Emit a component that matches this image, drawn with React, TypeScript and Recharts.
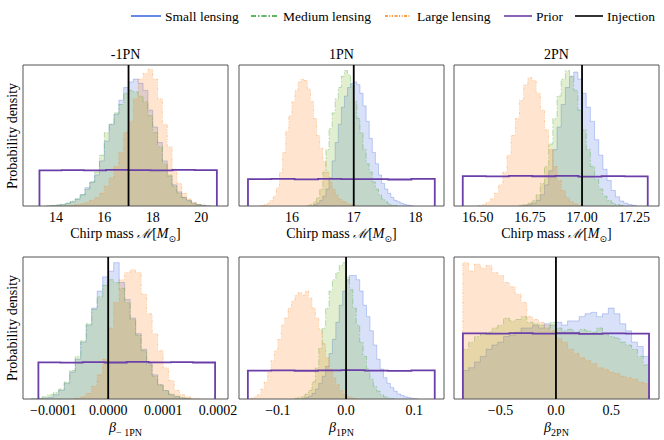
import React from 'react';
import { ComposedChart, Area, Line, XAxis, YAxis, ReferenceLine, ReferenceArea } from 'recharts';

const SERIF = '"Liberation Serif", "Times New Roman", "DejaVu Serif", serif';

// ---------- categories / labels ----------
const panelTitles = ['-1PN', '1PN', '2PN'];
const betaSubs = ['\u2212 1PN', '1PN', '2PN'];
const legendLabels = ['Small lensing', 'Medium lensing', 'Large lensing', 'Prior', 'Injection'];

// ---------- tick values ----------
const ticksMc1 = [14, 16, 18, 20];
const ticksMc2 = [16, 17, 18];
const ticksMc3 = [16.5, 16.75, 17.0, 17.25];
const ticksB1 = [-0.0001, 0, 0.0001, 0.0002];
const ticksB2 = [-0.1, 0, 0.1];
const ticksB3 = [-0.5, 0, 0.5];

// ---------- injections ----------
const injMc = 17.0;
const injBeta = 0.0;

// ---------- Chirp mass, -1PN (bin edges start, bin width, heights % of panel) ----------
const mc1Bin = 0.2;
const mc1SmallStart = 13.6;
const mc1Small = [0, 0.3, 0.5, 1, 2, 3, 5, 8, 13, 17, 22, 32, 46, 58, 65, 75, 84, 88, 90, 87, 82, 68, 56, 45, 32, 21, 15, 10, 6, 4, 2, 1, 0.5, 0];
const mc1MediumStart = 13.6;
const mc1Medium = [0, 0.5, 0.8, 1.2, 2, 3.5, 5, 8, 12, 17, 24, 36, 52, 58, 66, 72, 80, 82, 81, 78, 74, 64, 52, 42, 30, 22, 14, 9, 6, 3.5, 2, 1, 0.5, 0];
const mc1LargeStart = 13.6;
const mc1Large = [0, 0, 0, 0, 0.3, 0.6, 1, 1.5, 2.5, 4, 6, 9, 14, 20, 28, 38, 52, 60, 76, 90, 94, 97, 90, 76, 58, 42, 26, 16, 9, 5, 2.5, 1, 0.5, 0];
const mc1PriorRange = [13.32, 20.65];
const mc1Prior = [25.3, 25.5, 25.2, 25.6, 25.4, 25.3, 25.6, 25.4];

// ---------- Chirp mass, 1PN ----------
const mc2Bin = 0.05;
const mc2SmallStart = 16.35;
const mc2Small = [1, 2, 4, 7, 12, 20, 32, 45, 58, 70, 78, 84, 87, 88, 86, 80, 71, 60, 48, 38, 30, 22, 16, 12, 9, 6, 4, 3, 2, 1.2, 0.7, 0.3];
const mc2MediumStart = 16.25;
const mc2Medium = [0.3, 1, 3, 6, 12, 24, 40, 55, 66, 76, 84, 92, 96, 93, 86, 74, 62, 52, 40, 30, 24, 17, 12, 8, 5, 3, 1.5, 0.7, 0.3];
const mc2LargeStart = 15.5;
const mc2Large = [0.3, 1, 2, 4, 7, 13, 24, 38, 53, 64, 74, 82, 88, 90, 89, 83, 74, 62, 50, 41, 32, 24, 17, 12, 8, 5, 3.5, 2.5, 1.5, 0.8, 0.3];
const mc2PriorRange = [15.29, 18.31];
const mc2Prior = [19.0, 19.2, 18.9, 19.3, 19.0, 19.1, 18.8, 19.2];

// ---------- Chirp mass, 2PN ----------
const mc3Bin = 0.02;
const mc3SmallStart = 16.72;
const mc3Small = [0.5, 1, 2, 4, 8, 15, 25, 40, 56, 72, 84, 92, 95, 90, 80, 70, 60, 47, 36, 26, 18, 11, 6.5, 3.5, 2, 1, 0.5];
const mc3MediumStart = 16.7;
const mc3Medium = [0.5, 1, 2, 4, 8, 16, 28, 44, 62, 78, 90, 96, 92, 82, 68, 54, 40, 28, 19, 12, 7, 4, 2, 1, 0.4];
const mc3LargeStart = 16.5;
const mc3Large = [0.3, 1, 2.5, 5, 9, 15, 24, 36, 50, 62, 75, 86, 91, 89, 80, 68, 54, 40, 28, 18, 11, 6, 3, 1.5, 0.5];
const mc3PriorRange = [16.428, 17.315];
const mc3Prior = [21.2, 21.0, 21.4, 21.1, 21.3, 20.9, 21.2, 21.0];

// ---------- beta, -1PN ----------
const b1Bin = 0.00001;
const b1SmallStart = -0.00013;
const b1Small = [0.3, 0.6, 1.2, 3, 6, 11, 19, 28, 40, 52, 64, 76, 86, 90, 96, 82, 70, 57, 46, 35, 25, 17, 10, 6, 3, 1.5, 0.7, 0.3];
const b1MediumStart = -0.00014;
const b1Medium = [0.3, 0.7, 1.5, 3, 4.5, 7, 12, 20, 30, 41, 53, 63, 72, 80, 84, 82, 78, 68, 56, 45, 34, 24, 16, 10, 6, 3.5, 2, 1, 0.4];
const b1LargeStart = -0.00006;
const b1Large = [0.5, 1.5, 4, 9, 17, 28, 50, 68, 84, 89, 91, 89, 74, 60, 46, 34, 22, 13, 6, 3, 1.5, 0.6, 0.2];
const b1PriorRange = [-0.000127, 0.0001945];
const b1Prior = [25.8, 25.6, 26.0, 25.7, 26.1, 25.8, 25.9, 25.7];

// ---------- beta, 1PN ----------
const b2Bin = 0.005;
const b2SmallStart = -0.065;
const b2Small = [0.5, 1, 2, 4, 7, 11, 16, 23, 32, 42, 54, 66, 76, 84, 87, 87, 84, 76, 66, 58, 48, 38, 28, 21, 15, 11, 8, 5.5, 3.5, 2.5, 1.5, 1, 0.5, 0.2];
const b2MediumStart = -0.075;
const b2Medium = [0.5, 1, 2, 3.5, 6, 12, 22, 36, 50, 64, 76, 84, 89, 94, 96, 86, 77, 64, 52, 40, 30, 21, 14, 9, 5.5, 3, 1.5, 0.8, 0.3];
const b2LargeStart = -0.14;
const b2Large = [0.5, 1.5, 3, 7, 12, 19, 27, 34, 42, 52, 57, 64, 69, 73, 75, 73, 76, 71, 64, 57, 49, 39, 29, 21, 15, 10, 6, 3.5, 2, 1, 0.4];
const b2PriorRange = [-0.144, 0.13];
const b2Prior = [20.0, 20.2, 19.9, 20.1, 20.3, 20.0, 19.8, 20.1];

// ---------- beta, 2PN ----------
const b3Bin = 0.0525;
const b3SmallStart = -0.84;
const b3Small = [20, 22, 26, 30, 35, 38, 40, 44, 45, 47, 50, 50, 52, 50, 53, 52, 54, 52, 55, 55, 58, 60, 61, 58, 60, 64, 60, 53, 48, 40, 37, 30];
const b3MediumStart = -0.84;
const b3Medium = [35, 40, 44, 46, 47, 50, 52, 57, 55, 56, 58, 54, 53, 52, 50, 54, 50, 48, 49, 47, 49, 48, 47, 50, 46, 44, 43, 40, 38, 35, 30, 24];
const b3LargeStart = -0.84;
const b3Large = [96, 90, 95, 92, 94, 89, 87, 82, 79, 74, 68, 58, 56, 54, 52, 48, 43, 40, 35, 32, 29, 27, 25, 22, 21, 19, 18, 16, 15, 14, 12, 11];
const b3PriorRange = [-0.84, 0.84];
const b3Prior = [46.2, 46.0, 46.4, 46.1, 46.3, 45.9, 46.2, 46.0];

// ---------- style ----------
const C_SMALL = '#4169E1';
const C_MEDIUM = '#2ca02c';
const C_MEDIUM_FILL = '#6aaa10';
const C_LARGE = '#ff7f0e';
const C_PRIOR = '#6b3fa8';
const C_INJ = '#000000';
const DASH_MEDIUM = '6 2 1.5 2';
const DASH_LARGE = '3 1.5 1 1.5 1 1.5';

type Pt = { x: number; y: number };

function histPoints(start: number, bin: number, h: number[]): Pt[] {
  const pts: Pt[] = [{ x: start, y: 0 }];
  h.forEach((v, i) => pts.push({ x: start + i * bin, y: v }));
  pts.push({ x: start + h.length * bin, y: 0 });
  return pts;
}

function priorPoints(range: number[], h: number[]): Pt[] {
  const bin = (range[1] - range[0]) / h.length;
  return histPoints(range[0], bin, h);
}

const fmtInt = (v: number) => String(v);
const fmt2 = (v: number) => v.toFixed(2);
const fmt1 = (v: number) => v.toFixed(1).replace('-', '\u2212');
const fmt4 = (v: number) => v.toFixed(4).replace('-', '\u2212');

type PanelCfg = {
  domain: [number, number];
  ticks: number[];
  fmt: (v: number) => string;
  inj: number;
  prior: Pt[];
  small: Pt[];
  medium: Pt[];
  large: Pt[];
};

const topPanels: PanelCfg[] = [
  {
    domain: [12.64, 21.11], ticks: ticksMc1, fmt: fmtInt, inj: injMc,
    prior: priorPoints(mc1PriorRange, mc1Prior),
    small: histPoints(mc1SmallStart, mc1Bin, mc1Small),
    medium: histPoints(mc1MediumStart, mc1Bin, mc1Medium),
    large: histPoints(mc1LargeStart, mc1Bin, mc1Large),
  },
  {
    domain: [15.145, 18.459], ticks: ticksMc2, fmt: fmtInt, inj: injMc,
    prior: priorPoints(mc2PriorRange, mc2Prior),
    small: histPoints(mc2SmallStart, mc2Bin, mc2Small),
    medium: histPoints(mc2MediumStart, mc2Bin, mc2Medium),
    large: histPoints(mc2LargeStart, mc2Bin, mc2Large),
  },
  {
    domain: [16.386, 17.369], ticks: ticksMc3, fmt: fmt2, inj: injMc,
    prior: priorPoints(mc3PriorRange, mc3Prior),
    small: histPoints(mc3SmallStart, mc3Bin, mc3Small),
    medium: histPoints(mc3MediumStart, mc3Bin, mc3Medium),
    large: histPoints(mc3LargeStart, mc3Bin, mc3Large),
  },
];

const bottomPanels: PanelCfg[] = [
  {
    domain: [-0.000155, 0.000218], ticks: ticksB1, fmt: fmt4, inj: injBeta,
    prior: priorPoints(b1PriorRange, b1Prior),
    small: histPoints(b1SmallStart, b1Bin, b1Small),
    medium: histPoints(b1MediumStart, b1Bin, b1Medium),
    large: histPoints(b1LargeStart, b1Bin, b1Large),
  },
  {
    domain: [-0.157, 0.1436], ticks: ticksB2, fmt: fmt1, inj: injBeta,
    prior: priorPoints(b2PriorRange, b2Prior),
    small: histPoints(b2SmallStart, b2Bin, b2Small),
    medium: histPoints(b2MediumStart, b2Bin, b2Medium),
    large: histPoints(b2LargeStart, b2Bin, b2Large),
  },
  {
    domain: [-0.92, 0.93], ticks: ticksB3, fmt: fmt1, inj: injBeta,
    prior: priorPoints(b3PriorRange, b3Prior),
    small: histPoints(b3SmallStart, b3Bin, b3Small),
    medium: histPoints(b3MediumStart, b3Bin, b3Medium),
    large: histPoints(b3LargeStart, b3Bin, b3Large),
  },
];

const PANEL_LEFTS = [23, 239, 454];
const PANEL_W = 205;
const TOP_Y = 65;
const TOP_H = 141;
const BOT_Y = 257;
const BOT_H = 142;
const AXIS_H = 40;

function Panel({ cfg, left, top, height }: { cfg: PanelCfg; left: number; top: number; height: number }) {
  const hists = [
    { pts: cfg.small, color: C_SMALL, fill: C_SMALL, dash: undefined as string | undefined },
    { pts: cfg.medium, color: C_MEDIUM, fill: C_MEDIUM_FILL, dash: DASH_MEDIUM },
    { pts: cfg.large, color: C_LARGE, fill: C_LARGE, dash: DASH_LARGE },
  ];
  return (
    <div style={{ position: 'absolute', left, top, width: PANEL_W, height: height + AXIS_H }}>
      <ComposedChart width={PANEL_W} height={height + AXIS_H} margin={{ top: 0, right: 0, bottom: 0, left: 0 }}>
        <XAxis
          dataKey="x"
          type="number"
          domain={cfg.domain}
          allowDataOverflow
          ticks={cfg.ticks}
          interval={0}
          tickFormatter={cfg.fmt}
          tickLine={false}
          axisLine={false}
          tickSize={0}
          tickMargin={6}
          height={AXIS_H}
          tick={{ fill: '#000', fontSize: 14, fontFamily: SERIF }}
        />
        <YAxis type="number" domain={[0, 100]} hide allowDataOverflow />
        {hists.map((hs, i) => (
          <Area
            key={i}
            data={hs.pts}
            dataKey="y"
            type="stepAfter"
            stroke={hs.color}
            strokeOpacity={0.3}
            strokeWidth={1}
            strokeDasharray={hs.dash}
            fill={hs.fill}
            fillOpacity={0.2}
            dot={false}
            activeDot={false}
            isAnimationActive={false}
          />
        ))}
        <Line
          data={cfg.prior}
          dataKey="y"
          type="stepAfter"
          stroke={C_PRIOR}
          strokeWidth={1.8}
          dot={false}
          activeDot={false}
          isAnimationActive={false}
        />
        <ReferenceLine x={cfg.inj} stroke={C_INJ} strokeWidth={1.8} />
        <ReferenceArea
          x1={cfg.domain[0]}
          x2={cfg.domain[1]}
          y1={0}
          y2={100}
          fill="none"
          stroke="#555"
          strokeWidth={1}
          ifOverflow="visible"
        />
      </ComposedChart>
    </div>
  );
}

function CenterText({ cx, cy, children }: { cx: number; cy: number; children: React.ReactNode }) {
  return (
    <div
      style={{
        position: 'absolute',
        left: cx - 110,
        top: cy - 10,
        width: 220,
        height: 20,
        lineHeight: '20px',
        textAlign: 'center',
        fontFamily: SERIF,
        fontSize: 14,
        color: '#000',
        whiteSpace: 'nowrap',
      }}
    >
      {children}
    </div>
  );
}

function ChirpLabel() {
  return (
    <span>
      Chirp mass <span style={{ fontFamily: '"DejaVu Serif", serif', fontStyle: 'italic', fontSize: 13 }}>{'\u2133'}</span>
      [<i>M</i>
      <span style={{ fontSize: 9, position: 'relative', top: 4, fontFamily: '"DejaVu Sans", sans-serif' }}>{'\u2299'}</span>]
    </span>
  );
}

function BetaLabel({ sub }: { sub: string }) {
  return (
    <span>
      <i>{'\u03B2'}</i>
      <span style={{ fontSize: 10, position: 'relative', top: 4 }}>{sub}</span>
    </span>
  );
}

function YLabel({ cy }: { cy: number }) {
  return (
    <div
      style={{
        position: 'absolute',
        left: 13 - 80,
        top: cy - 10,
        width: 160,
        height: 20,
        lineHeight: '20px',
        textAlign: 'center',
        fontFamily: SERIF,
        fontSize: 14,
        color: '#000',
        transform: 'rotate(-90deg)',
        transformOrigin: '50% 50%',
        whiteSpace: 'nowrap',
      }}
    >
      Probability density
    </div>
  );
}

function LegendBar() {
  const items = [
    { x1: 131, x2: 161, tx: 165, color: C_SMALL, dash: undefined as string | undefined },
    { x1: 251, x2: 277, tx: 283, color: C_MEDIUM, dash: '5 2 1.5 2' },
    { x1: 385, x2: 411, tx: 417, color: C_LARGE, dash: '3 1.5 1 1.5 1 1.5' },
    { x1: 504, x2: 532, tx: 536, color: C_PRIOR, dash: undefined },
    { x1: 575, x2: 603, tx: 607, color: C_INJ, dash: undefined },
  ];
  return (
    <svg width={664} height={32} style={{ position: 'absolute', left: 0, top: 0 }}>
      {items.map((it, i) => (
        <g key={i}>
          <line x1={it.x1} x2={it.x2} y1={16} y2={16} stroke={it.color} strokeWidth={1.6} strokeDasharray={it.dash} />
          <text x={it.tx} y={20.5} fontSize={13.5} fill="#000" style={{ fontFamily: SERIF }}>
            {legendLabels[i]}
          </text>
        </g>
      ))}
    </svg>
  );
}

export default function App() {
  return (
    <div style={{ position: 'absolute', left: 0, top: 0, width: 664, height: 440, background: '#fff', overflow: 'hidden', fontFamily: SERIF }}>
      <style>{`.recharts-surface{overflow:visible}.recharts-wrapper{overflow:visible}.recharts-wrapper text,.recharts-text,.recharts-cartesian-axis-tick-value{font-family:"Liberation Serif","Times New Roman",serif !important;}`}</style>
      <LegendBar />
      {panelTitles.map((t, i) => (
        <CenterText key={'t' + i} cx={PANEL_LEFTS[i] + PANEL_W / 2} cy={55}>
          {t}
        </CenterText>
      ))}
      {topPanels.map((cfg, i) => (
        <Panel key={'top' + i} cfg={cfg} left={PANEL_LEFTS[i]} top={TOP_Y} height={TOP_H} />
      ))}
      {bottomPanels.map((cfg, i) => (
        <Panel key={'bot' + i} cfg={cfg} left={PANEL_LEFTS[i]} top={BOT_Y} height={BOT_H} />
      ))}
      {PANEL_LEFTS.map((l, i) => (
        <CenterText key={'cx' + i} cx={l + PANEL_W / 2} cy={234}>
          <ChirpLabel />
        </CenterText>
      ))}
      {PANEL_LEFTS.map((l, i) => (
        <CenterText key={'bx' + i} cx={l + PANEL_W / 2} cy={428}>
          <BetaLabel sub={betaSubs[i]} />
        </CenterText>
      ))}
      <YLabel cy={135.5} />
      <YLabel cy={328} />
    </div>
  );
}
